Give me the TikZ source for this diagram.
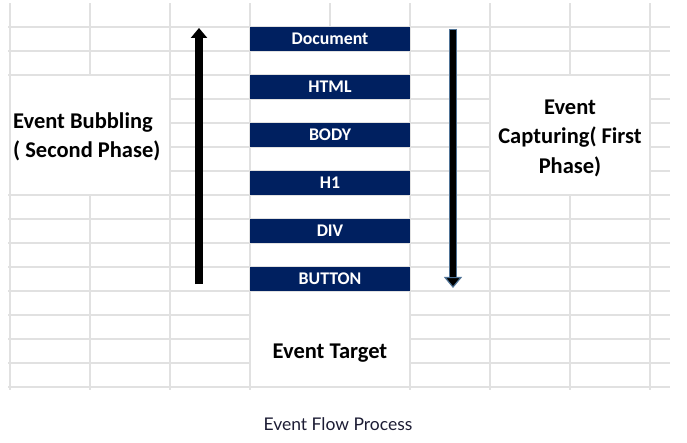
\documentclass[tikz,border=0pt]{standalone}
\usepackage{fontspec}
\setmainfont{Carlito}
\newfontfamily\captionfont{Lato}
\usetikzlibrary{arrows.meta}
\definecolor{boxblue}{HTML}{002060}
\definecolor{gridgray}{HTML}{E1E1E1}
\definecolor{capblue}{HTML}{4F7396}
\definecolor{captiontext}{HTML}{1C1C34}

\begin{document}
\begin{tikzpicture}[x=1pt, y=-1pt,
    gridline/.style={gridgray, line width=1.1pt},
    box/.style={fill=boxblue, text=white, minimum width=160pt, minimum height=24pt, inner sep=0pt, font=\bfseries\fontsize{17.8}{20}\selectfont},
    phasetext/.style={inner sep=0pt, font=\bfseries\fontsize{22.5}{29.5}\selectfont}]
    \useasboundingbox (0,0) rectangle (687,443);

    % Draw grid
    \foreach \y in {27,51,75,195,219,243,267,291,387} \draw[gridline] (8,\y) -- (670,\y);
    \foreach \y in {99,123,147,171} {\draw[gridline] (170,\y) -- (490,\y); \draw[gridline] (650,\y) -- (670,\y);}
    \foreach \y in {315,339,363} {\draw[gridline] (8,\y) -- (250,\y); \draw[gridline] (410,\y) -- (670,\y);}
    \foreach \x in {10,170,250,410,490,650} \draw[gridline] (\x,3) -- (\x,390);
    \foreach \x in {90,570} {\draw[gridline] (\x,3) -- (\x,75); \draw[gridline] (\x,195) -- (\x,390);}
    \draw[gridline] (330,3) -- (330,27); % only the top row is split

    % Draw element boxes
    \foreach \name/\txt [count=\i from 0] in {doc/Document, html/HTML, body/BODY, hone/H1, div/DIV, button/BUTTON}
        \node[box] (\name) at (330, 39+48*\i) {\txt};

    % Draw phase texts
    \node[phasetext, align=left, anchor=west] (bubbling) at (13,137) {Event Bubbling\\( Second Phase)};
    \node[phasetext, align=center] (capturing) at (570,138) {Event\\Capturing( First\\Phase)};
    \node[phasetext, anchor=base] (target) at (330,358) {Event Target};
    \node[font=\captionfont\fontsize{17.5}{20}\selectfont, text=captiontext, anchor=base] (caption) at (338,430) {Event Flow Process};

    % Draw phase arrows
    \coordinate (bubbleStart) at (199,284);
    \coordinate (bubbleEnd) at (199,28);
    \draw[line width=8pt, -{Triangle[width=16pt,length=10pt]}] (bubbleStart) -- (bubbleEnd); % bubbling goes up
    \coordinate (captureStart) at (453,29);
    \coordinate (captureEnd) at (453,288);
    \draw[capblue, line width=8pt, -{Triangle[width=18pt,length=11pt,fill=black,line width=1.2pt]}] (captureStart) -- (captureEnd); % capturing goes down
    \draw[line width=5.6pt, shorten <=1.2pt, shorten >=11pt] (captureStart) -- (captureEnd);
\end{tikzpicture}
\end{document}
